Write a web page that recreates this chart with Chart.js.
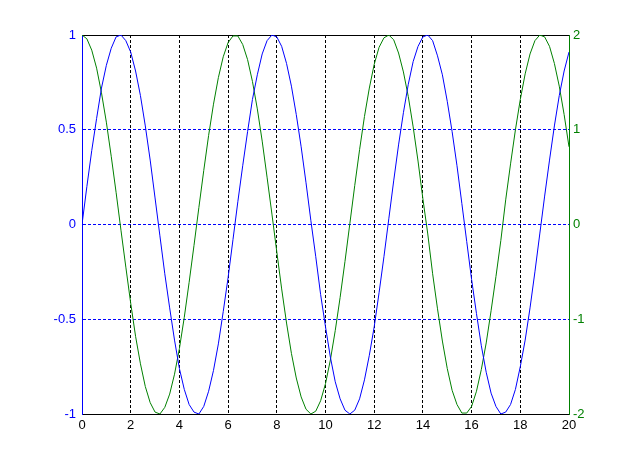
<!DOCTYPE html>
<html>
<head>
<meta charset="utf-8">
<script src="https://cdn.jsdelivr.net/npm/chart.js@4"></script>
<style>
  body { margin: 0; background: #fff; }
  canvas { display: block; }
</style>
</head>
<body>
<canvas id="chart" width="628" height="465"></canvas>
<script>
// sample positions along x
const xs = [
  0, 0.2, 0.4, 0.6, 0.8, 1, 1.2, 1.4, 1.6, 1.8,
  2, 2.2, 2.4, 2.6, 2.8, 3, 3.2, 3.4, 3.6, 3.8,
  4, 4.2, 4.4, 4.6, 4.8, 5, 5.2, 5.4, 5.6, 5.8,
  6, 6.2, 6.4, 6.6, 6.8, 7, 7.2, 7.4, 7.6, 7.8,
  8, 8.2, 8.4, 8.6, 8.8, 9, 9.2, 9.4, 9.6, 9.8,
  10, 10.2, 10.4, 10.6, 10.8, 11, 11.2, 11.4, 11.6, 11.8,
  12, 12.2, 12.4, 12.6, 12.8, 13, 13.2, 13.4, 13.6, 13.8,
  14, 14.2, 14.4, 14.6, 14.8, 15, 15.2, 15.4, 15.6, 15.8,
  16, 16.2, 16.4, 16.6, 16.8, 17, 17.2, 17.4, 17.6, 17.8,
  18, 18.2, 18.4, 18.6, 18.8, 19, 19.2, 19.4, 19.6, 19.8,
  20
];

// blue series, left axis
const blueValues = [
  0, 0.20, 0.39, 0.56, 0.72, 0.84, 0.93, 0.99, 1.00, 0.97,
  0.91, 0.81, 0.68, 0.52, 0.34, 0.14, -0.06, -0.26, -0.44, -0.61,
  -0.76, -0.87, -0.95, -0.99, -1.00, -0.96, -0.88, -0.77, -0.63, -0.46,
  -0.28, -0.08, 0.12, 0.31, 0.49, 0.66, 0.79, 0.90, 0.97, 1.00,
  0.99, 0.94, 0.85, 0.73, 0.58, 0.41, 0.22, 0.02, -0.17, -0.37,
  -0.54, -0.70, -0.83, -0.92, -0.98, -1.00, -0.98, -0.92, -0.82, -0.69,
  -0.54, -0.36, -0.17, 0.03, 0.23, 0.42, 0.59, 0.74, 0.86, 0.94,
  0.99, 1.00, 0.97, 0.89, 0.79, 0.65, 0.49, 0.31, 0.11, -0.09,
  -0.29, -0.47, -0.64, -0.78, -0.89, -0.96, -1.00, -0.99, -0.95, -0.87,
  -0.75, -0.61, -0.44, -0.25, -0.05, 0.15, 0.34, 0.52, 0.68, 0.81,
  0.91
];

// green series, right axis
const greenValues = [
  2.00, 1.96, 1.84, 1.65, 1.39, 1.08, 0.72, 0.34, -0.06, -0.45,
  -0.83, -1.18, -1.47, -1.71, -1.88, -1.98, -2.00, -1.93, -1.79, -1.58,
  -1.31, -0.98, -0.61, -0.22, 0.18, 0.57, 0.94, 1.27, 1.55, 1.77,
  1.92, 1.99, 1.99, 1.90, 1.74, 1.51, 1.22, 0.88, 0.50, 0.11,
  -0.29, -0.68, -1.04, -1.36, -1.62, -1.82, -1.95, -2.00, -1.97, -1.86,
  -1.68, -1.43, -1.12, -0.77, -0.39, 0.01, 0.41, 0.79, 1.14, 1.44,
  1.69, 1.87, 1.97, 2.00, 1.95, 1.81, 1.61, 1.35, 1.03, 0.67,
  0.27, -0.10, -0.52, -0.89, -1.23, -1.52, -1.75, -1.90, -1.99, -1.99,
  -1.92, -1.76, -1.53, -1.25, -0.91, -0.55, -0.17, 0.26, 0.64, 1.00,
  1.32, 1.59, 1.80, 1.94, 2.00, 1.98, 1.88, 1.70, 1.46, 1.16,
  0.82
];

const xRange = [0, 20];
const leftRange = [-1, 1];
const rightRange = [-2, 2];

const BLUE = '#0000ff';
const GREEN = '#008000';
const tickFont = { family: 'Liberation Sans, Arial, sans-serif', size: 13 };

const toPoints = (ys) => xs.map((x, i) => ({ x: x, y: ys[i] }));

// axis sizes so the plot box lands where the reference has it
const fixWidth = (w) => (scale) => { scale.width = w; };
const fixHeight = (h) => (scale) => { scale.height = h; };

new Chart(document.getElementById('chart'), {
  type: 'line',
  data: {
    datasets: [
      {
        data: toPoints(blueValues),
        yAxisID: 'yLeft',
        borderColor: BLUE,
        borderWidth: 1,
        pointRadius: 0,
        tension: 0
      },
      {
        data: toPoints(greenValues),
        yAxisID: 'yRight',
        borderColor: GREEN,
        borderWidth: 1,
        pointRadius: 0,
        tension: 0
      }
    ]
  },
  options: {
    responsive: false,
    animation: false,
    layout: { padding: 0 },
    plugins: { legend: { display: false }, tooltip: { enabled: false } },
    scales: {
      x: {
        type: 'linear',
        position: 'bottom',
        min: xRange[0],
        max: xRange[1],
        afterFit: fixHeight(51),
        ticks: { stepSize: 2, color: '#000', font: tickFont, padding: 4, maxRotation: 0 },
        grid: {
          drawTicks: false,
          lineWidth: 1,
          color: (ctx) => (ctx.tick && (ctx.tick.value === xRange[0] || ctx.tick.value === xRange[1])) ? 'rgba(0,0,0,0)' : '#000'
        },
        border: { display: true, color: '#000', width: 1, dash: [3, 2] }
      },
      xTop: {
        type: 'linear',
        position: 'top',
        min: xRange[0],
        max: xRange[1],
        afterFit: fixHeight(35),
        ticks: { display: false },
        grid: { display: false, drawTicks: false },
        border: { display: true, color: '#000', width: 1 }
      },
      yLeft: {
        type: 'linear',
        position: 'left',
        min: leftRange[0],
        max: leftRange[1],
        afterFit: fixWidth(82),
        ticks: { stepSize: 0.5, color: BLUE, font: tickFont, padding: 6, callback: (v) => String(v) },
        grid: {
          drawTicks: false,
          lineWidth: 1,
          color: (ctx) => (ctx.tick && Math.abs(ctx.tick.value) === 1) ? 'rgba(0,0,0,0)' : BLUE
        },
        border: { display: true, color: BLUE, width: 1, dash: [3, 2] }
      },
      yRight: {
        type: 'linear',
        position: 'right',
        min: rightRange[0],
        max: rightRange[1],
        afterFit: fixWidth(59),
        ticks: { stepSize: 1, color: GREEN, font: tickFont, padding: 4, callback: (v) => String(v) },
        grid: { drawOnChartArea: false, drawTicks: false },
        border: { display: true, color: GREEN, width: 1 }
      }
    }
  }
});
</script>
</body>
</html>
